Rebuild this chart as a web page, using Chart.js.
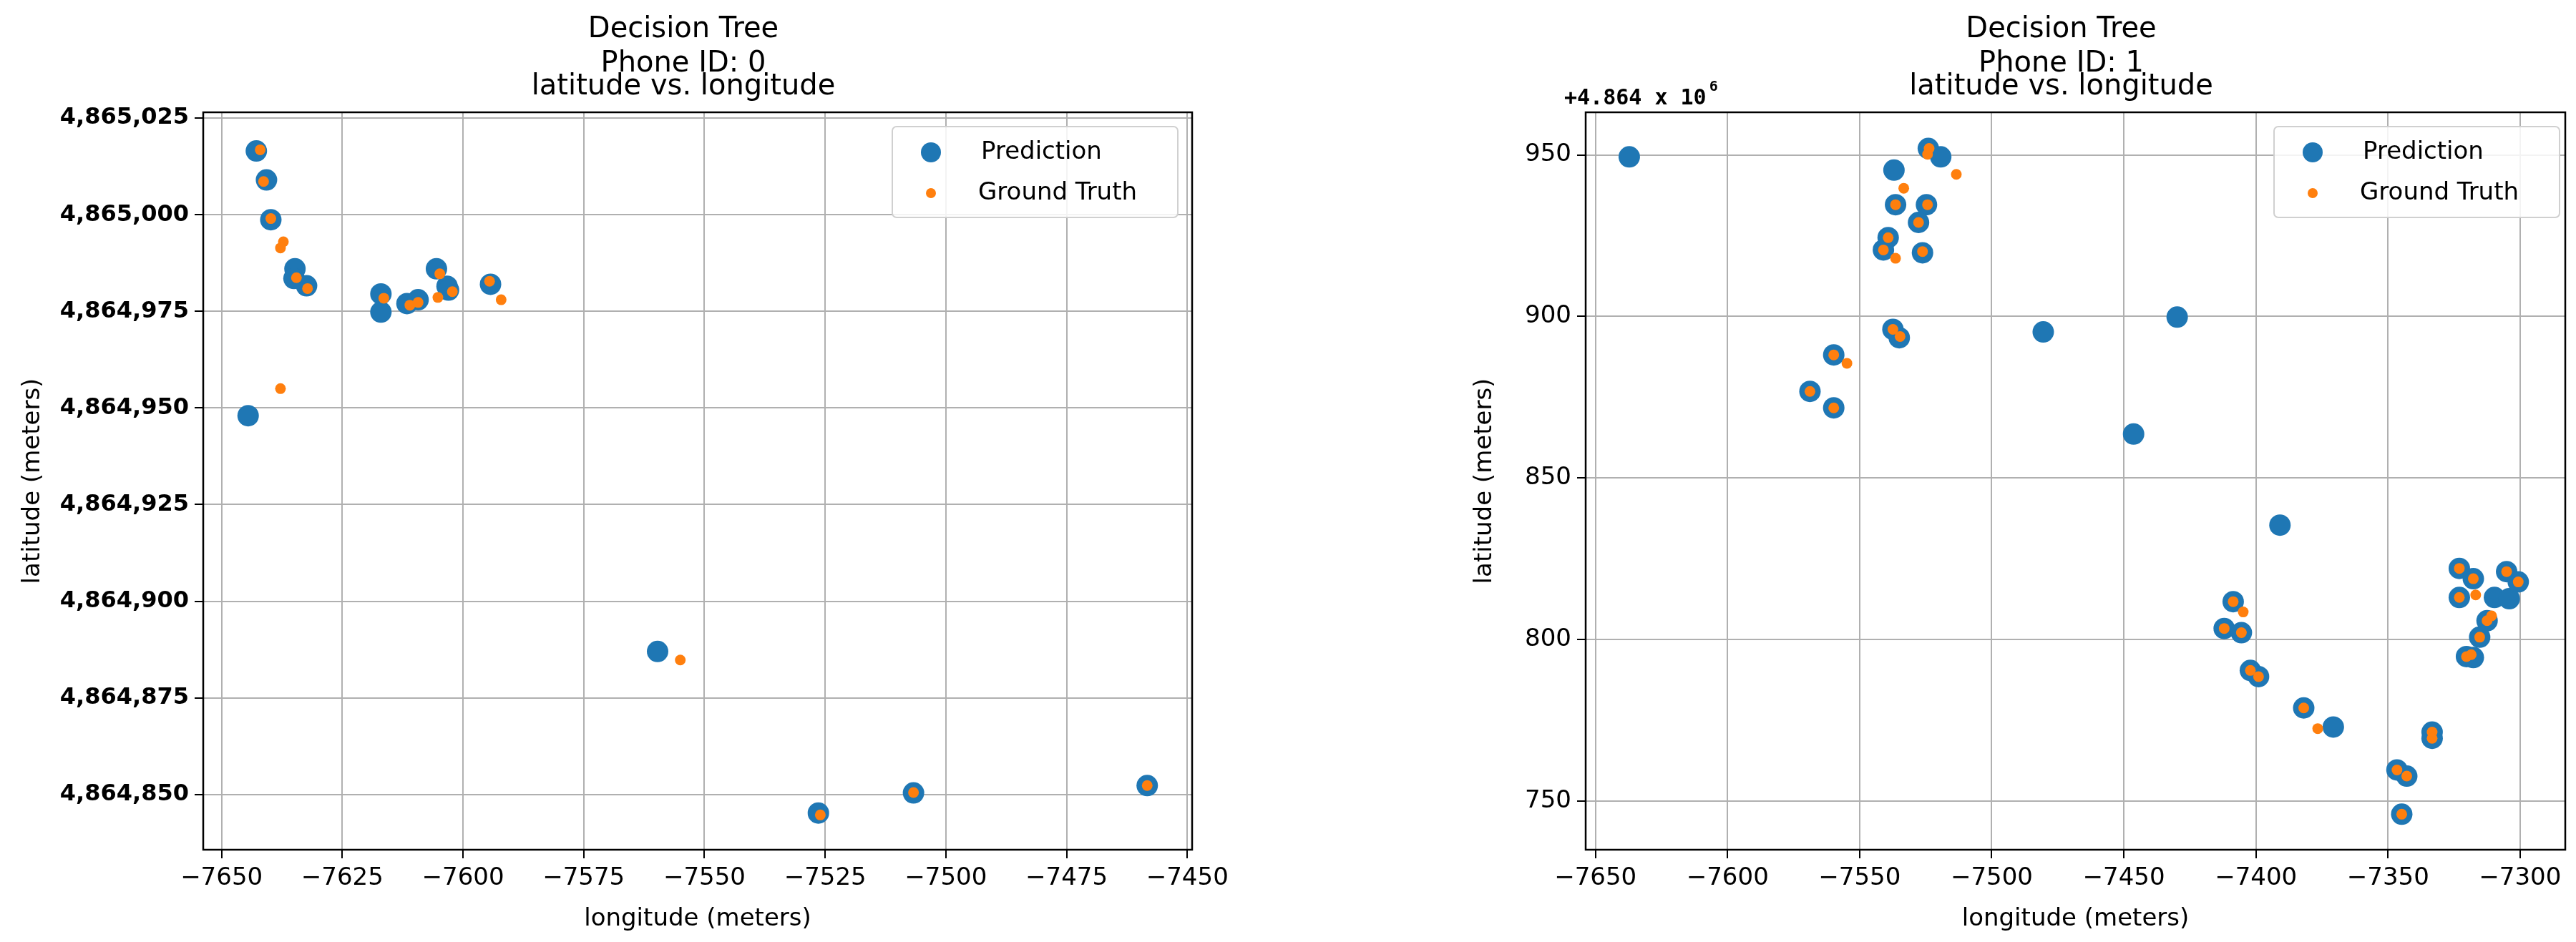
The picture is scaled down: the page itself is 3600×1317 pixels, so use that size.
<!DOCTYPE html>
<html>
<head>
<meta charset="utf-8">
<script src="https://cdn.jsdelivr.net/npm/chart.js@4.4.1/dist/chart.umd.min.js"></script>
<style>
  body { margin: 0; background: #fff; }
  .wrap { position: absolute; top: 0; width: 1800px; height: 1317px; }
  #w0 { left: 0; }
  #w1 { left: 1800px; }
</style>
</head>
<body>
<div class="wrap" id="w0"><canvas id="c0" width="1800" height="1317"></canvas></div>
<div class="wrap" id="w1"><canvas id="c1" width="1800" height="1317"></canvas></div>
<script>
// Phone 0 data (longitude / latitude in meters)
const p0PredLon = [-7642.8, -7640.7, -7639.8, -7634.8, -7635, -7632.4, -7617, -7617, -7611.6, -7609.3, -7605.5, -7603.3, -7603, -7594.3, -7644.5, -7559.7, -7526.4, -7506.7, -7458.3];
const p0PredLat = [4865016.5, 4865009, 4864998.7, 4864986, 4864983.5, 4864981.6, 4864979.5, 4864974.8, 4864977, 4864978, 4864986, 4864981.5, 4864980.5, 4864982, 4864948, 4864887, 4864845.2, 4864850.4, 4864852.3];
const p0TrueLon = [-7642, -7641.3, -7639.8, -7637.2, -7637.8, -7634.5, -7632.2, -7616.4, -7611, -7609.3, -7604.8, -7605.2, -7602.2, -7594.5, -7592.1, -7637.8, -7555, -7526, -7506.7, -7458.3];
const p0TrueLat = [4865016.8, 4865008.6, 4864999, 4864993, 4864991.4, 4864983.7, 4864980.9, 4864978.4, 4864976.6, 4864977.3, 4864984.7, 4864978.6, 4864980.1, 4864982.8, 4864978, 4864955, 4864884.8, 4864844.7, 4864850.5, 4864852.3];
const p0XTicks = [-7650, -7625, -7600, -7575, -7550, -7525, -7500, -7475, -7450];
const p0YTicks = [4864850, 4864875, 4864900, 4864925, 4864950, 4864975, 4865000, 4865025];

// Phone 1 data
const p1PredLon = [-7637.2, -7537, -7524, -7519.3, -7536.4, -7524.7, -7527.7, -7539.2, -7541, -7526.2, -7537.4, -7535, -7559.8, -7568.8, -7559.8, -7480.5, -7429.8, -7446.3, -7390.9, -7408.6, -7412, -7405.5, -7402.1, -7399, -7381.9, -7370.7, -7333.3, -7333.3, -7346.6, -7342.9, -7344.8, -7323, -7317.7, -7323, -7309.7, -7304.1, -7305.1, -7300.7, -7312.5, -7315.3, -7320.3, -7317.7];
const p1PredLat = [4864949.4, 4864945.3, 4864952, 4864949.4, 4864934.6, 4864934.6, 4864929.1, 4864924.4, 4864920.6, 4864919.7, 4864896, 4864893.4, 4864888.1, 4864876.8, 4864871.7, 4864895.2, 4864899.8, 4864863.6, 4864835.4, 4864811.7, 4864803.4, 4864802.1, 4864790.4, 4864788.5, 4864778.8, 4864772.9, 4864771.3, 4864769.4, 4864759.6, 4864757.7, 4864745.9, 4864822, 4864818.8, 4864813, 4864813, 4864812.6, 4864821, 4864817.8, 4864805.8, 4864800.7, 4864794.7, 4864794.4];
const p1TrueLon = [-7523.7, -7524.3, -7533.3, -7513.4, -7536.4, -7524.3, -7527.7, -7539.2, -7541, -7536.4, -7526.2, -7537.4, -7534.7, -7559.8, -7554.8, -7568.8, -7559.8, -7408.6, -7404.8, -7412, -7405.5, -7402.1, -7399, -7381.9, -7376.6, -7333.3, -7333.3, -7346.6, -7342.9, -7344.8, -7323, -7317.7, -7323, -7316.8, -7305.1, -7300.7, -7310.8, -7312.5, -7315.3, -7320.3, -7318.5];
const p1TrueLat = [4864952, 4864950.2, 4864939.7, 4864944, 4864934.6, 4864934.6, 4864929.1, 4864924.4, 4864920.6, 4864918, 4864920.1, 4864896, 4864893.8, 4864888.1, 4864885.5, 4864876.8, 4864871.7, 4864811.7, 4864808.5, 4864803.4, 4864802.1, 4864790.4, 4864788.5, 4864778.8, 4864772.4, 4864771.3, 4864769.4, 4864759.6, 4864757.7, 4864745.9, 4864822, 4864818.8, 4864813, 4864813.8, 4864821, 4864817.8, 4864807.3, 4864805.8, 4864800.7, 4864794.7, 4864795.3];
const p1XTicks = [-7650, -7600, -7550, -7500, -7450, -7400, -7350, -7300];
const p1YTicks = [4864750, 4864800, 4864850, 4864900, 4864950];

const BLUE = '#1f77b4';
const ORANGE = '#ff7f0e';
const FONT = '"DejaVu Sans", sans-serif';

function pts(xs, ys) { return xs.map((x, i) => ({ x, y: ys[i] })); }

// draws titles, axis labels, legend and offset text
const decorPlugin = {
  id: 'decor',
  afterDraw(chart, args, opts) {
    const ctx = chart.ctx;
    const a = chart.chartArea;
    ctx.save();
    // frame
    ctx.strokeStyle = '#000';
    ctx.lineWidth = 2.5;
    ctx.strokeRect(a.left, a.top, a.right - a.left, a.bottom - a.top);
    // titles
    ctx.fillStyle = '#000';
    ctx.textAlign = 'center';
    ctx.textBaseline = 'middle';
    ctx.font = '40px ' + FONT;
    const cx = (a.left + a.right) / 2 - 20;
    ctx.fillText('Decision Tree', cx, 42);
    ctx.fillText('Phone ID: ' + opts.phone, cx, 90);
    ctx.fillText('latitude vs. longitude', cx, 122);
    // axis labels
    ctx.font = '34px ' + FONT;
    ctx.fillText('longitude (meters)', (a.left + a.right) / 2, 1285);
    ctx.save();
    ctx.translate(opts.yLabelX, (a.top + a.bottom) / 2);
    ctx.rotate(-Math.PI / 2);
    ctx.fillText('latitude (meters)', 0, 0);
    ctx.restore();
    // offset text
    if (opts.offset) {
      ctx.textAlign = 'left';
      ctx.font = 'bold 30px "DejaVu Sans Mono", monospace';
      ctx.fillText('+4.864 x 10', a.left - 30, 138);
      ctx.font = 'bold 20px "DejaVu Sans Mono", monospace';
      ctx.fillText('6', a.left - 30 + ctx.measureText('+4.864 x 10').width * 1.5 + 4, 122);
    }
    // legend
    const lx = opts.legendX, ly = 177, lw = 399, lh = 127;
    ctx.fillStyle = 'rgba(255,255,255,0.85)';
    ctx.strokeStyle = '#d0d0d0';
    ctx.lineWidth = 2;
    ctx.beginPath();
    ctx.roundRect(lx, ly, lw, lh, 6);
    ctx.fill();
    ctx.stroke();
    ctx.fillStyle = BLUE;
    ctx.beginPath(); ctx.arc(lx + 54, 213, 14, 0, Math.PI * 2); ctx.fill();
    ctx.fillStyle = ORANGE;
    ctx.beginPath(); ctx.arc(lx + 54, 270, 7, 0, Math.PI * 2); ctx.fill();
    ctx.fillStyle = '#000';
    ctx.textAlign = 'left';
    ctx.font = '34px ' + FONT;
    ctx.fillText('Prediction', lx + 124, 213);
    ctx.fillText('Ground Truth', lx + 120, 270);
    ctx.restore();
  }
};

function makeChart(id, cfg) {
  return new Chart(document.getElementById(id), {
    type: 'scatter',
    data: {
      datasets: [
        { label: 'Prediction', order: 2, data: pts(cfg.predLon, cfg.predLat), backgroundColor: BLUE, borderWidth: 0, pointRadius: 15 },
        { label: 'Ground Truth', order: 1, data: pts(cfg.trueLon, cfg.trueLat), backgroundColor: ORANGE, borderWidth: 0, pointRadius: 7.5 }
      ]
    },
    options: {
      responsive: false,
      animation: false,
      devicePixelRatio: 1,
      layout: { padding: { left: 0, right: cfg.padRight, top: 157, bottom: 0 } },
      plugins: {
        legend: { display: false },
        tooltip: { enabled: false },
        decor: { phone: cfg.phone, yLabelX: cfg.yLabelX, legendX: cfg.legendX, offset: cfg.offset }
      },
      scales: {
        x: {
          type: 'linear', min: cfg.xMin, max: cfg.xMax,
          afterBuildTicks: s => { s.ticks = cfg.xTicks.map(v => ({ value: v })); },
          afterFit: s => { s.height = 129; },
          grid: { color: '#b0b0b0', lineWidth: 2, tickLength: 12, tickColor: '#000' },
          border: { display: false },
          ticks: { color: '#000', padding: 8, font: { family: FONT, size: 34 }, callback: v => String(v).replace('-', '\u2212') }
        },
        y: {
          type: 'linear', min: cfg.yMin, max: cfg.yMax,
          afterBuildTicks: s => { s.ticks = cfg.yTicks.map(v => ({ value: v })); },
          afterFit: s => { s.width = cfg.left; },
          grid: { color: '#b0b0b0', lineWidth: 2, tickLength: 12, tickColor: '#000' },
          border: { display: false },
          ticks: { color: '#000', padding: 8, font: cfg.yFont, callback: cfg.yFmt }
        }
      }
    },
    plugins: [decorPlugin]
  });
}

makeChart('c0', {
  predLon: p0PredLon, predLat: p0PredLat, trueLon: p0TrueLon, trueLat: p0TrueLat,
  xTicks: p0XTicks, yTicks: p0YTicks,
  xMin: -7653.8, xMax: -7449, yMin: 4864835.7, yMax: 4865026.5,
  left: 284, padRight: 134, phone: 0, yLabelX: 46, legendX: 1247, offset: false,
  yFont: { family: FONT, size: 32, weight: 'bold' },
  yFmt: v => v.toLocaleString('en-US')
});

makeChart('c1', {
  predLon: p1PredLon, predLat: p1PredLat, trueLon: p1TrueLon, trueLat: p1TrueLat,
  xTicks: p1XTicks, yTicks: p1YTicks,
  xMin: -7653.7, xMax: -7282.9, yMin: 4864734.9, yMax: 4864963.2,
  left: 416, padRight: 2, phone: 1, yLabelX: 275, legendX: 1378, offset: true,
  yFont: { family: FONT, size: 34 },
  yFmt: v => String(Math.round(v - 4864000))
});
</script>
</body>
</html>
